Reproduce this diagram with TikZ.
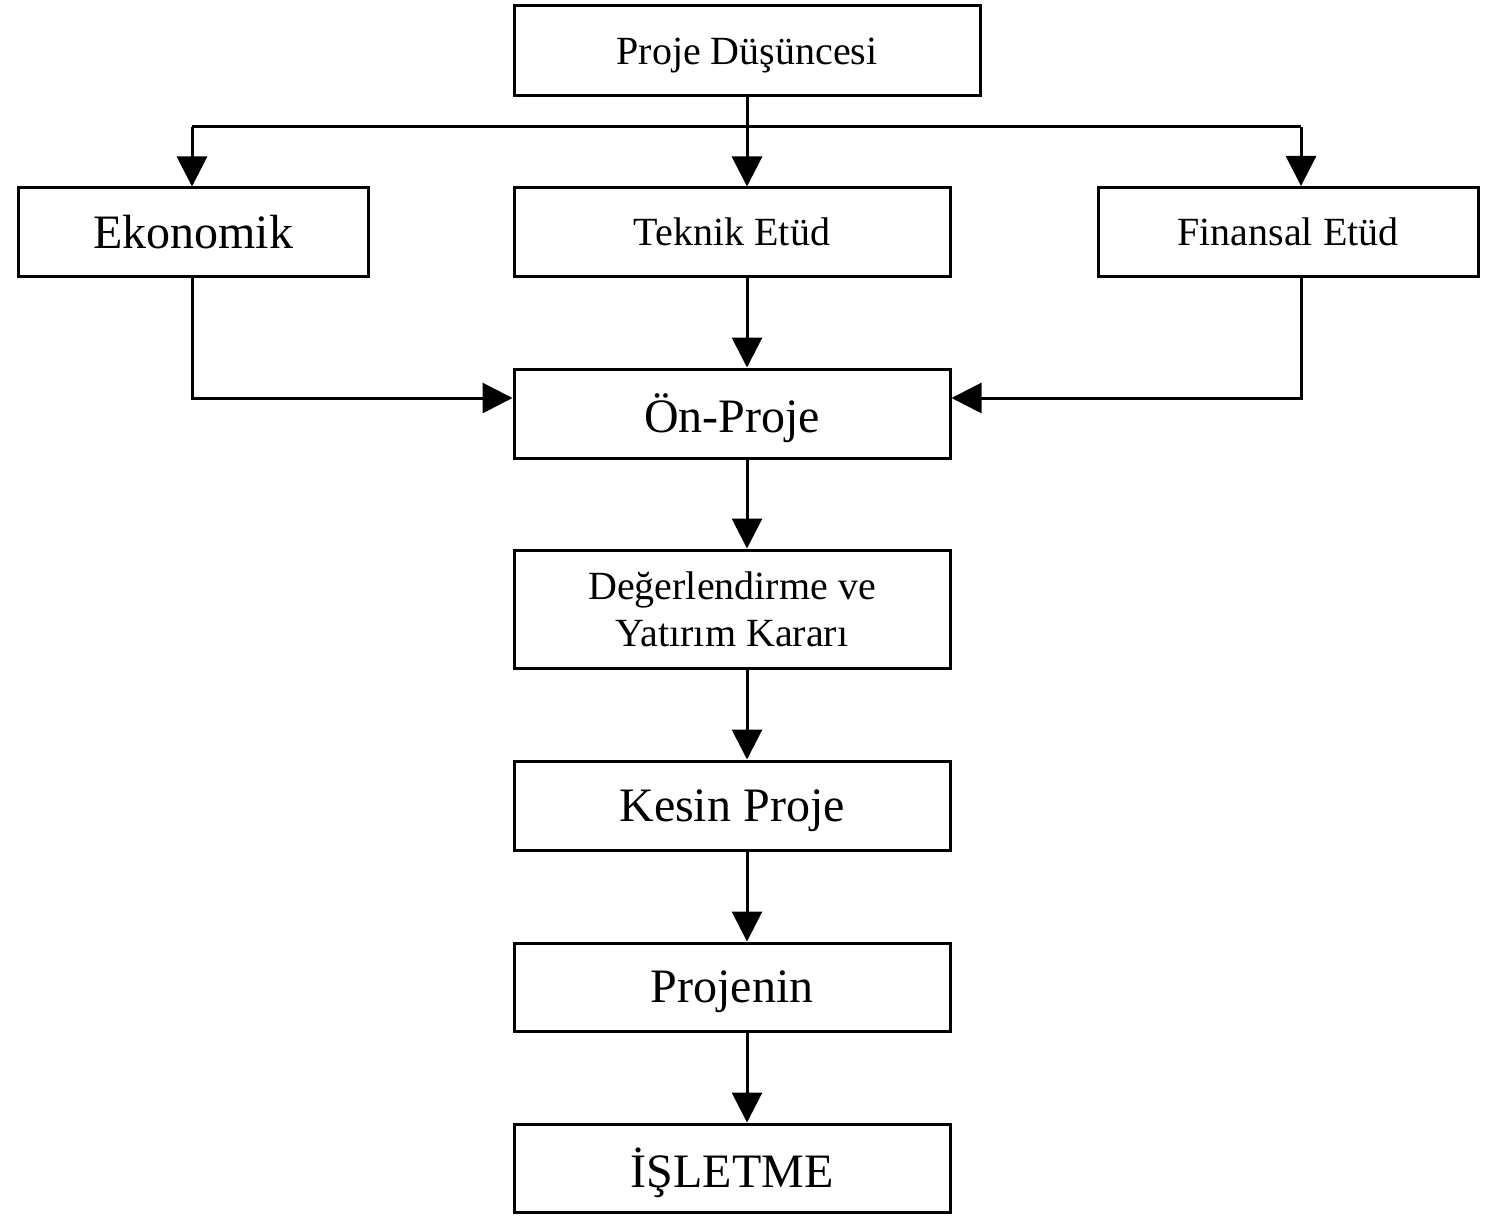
\documentclass[tikz,border=0pt]{standalone}
\usepackage{fontspec}
\setmainfont{Liberation Serif}
\usetikzlibrary{arrows.meta}
\begin{document}
\begin{tikzpicture}[x=1pt,y=-1pt,
  box/.style={draw=black, line width=3pt, inner sep=0pt, align=center},
  oneline/.style={text depth=0pt},
  bigtxt/.style={font=\fontsize{48}{56}\selectfont},
  smalltxt/.style={font=\fontsize{40}{47}\selectfont},
  link/.style={line width=3pt, -{Triangle[length=30pt,width=30pt]}},
  plain/.style={line width=3pt}]
\useasboundingbox (0,0) rectangle (1493,1217);

% stage boxes
\node[box, oneline, smalltxt, minimum width=466pt, minimum height=90pt] (idea) at (747,51) {Proje Düşüncesi};
\node[box, oneline, bigtxt, minimum width=350pt, minimum height=88pt] (ekon) at (193,232) {Ekonomik};
\node[box, oneline, smalltxt, minimum width=436pt, minimum height=88pt] (tekn) at (732,232) {Teknik Etüd};
\node[box, oneline, smalltxt, minimum width=380pt, minimum height=89pt] (fin) at (1288,232) {Finansal Etüd};
\node[box, oneline, bigtxt, minimum width=436pt, minimum height=89pt] (onp) at (732,413.5) {Ön-Proje};
\node[box, smalltxt, minimum width=436pt, minimum height=118pt] (deg) at (732,609) {Değerlendirme ve\\Yatırım Kararı};
\node[box, oneline, bigtxt, minimum width=436pt, minimum height=89pt] (kes) at (732,805.5) {Kesin Proje};
\node[box, oneline, bigtxt, minimum width=436pt, minimum height=88pt] (prj) at (732,987) {Projenin};
\node[box, oneline, bigtxt, minimum width=436pt, minimum height=88pt] (isl) at (732,1168) {İŞLETME};

% routing points
\coordinate (busL) at (192,127);
\coordinate (busR) at (1301,127);
\coordinate (joinL) at (192,398);
\coordinate (joinR) at (1301,398);

% distribution from the idea box
\draw[plain] (idea.south) -- (idea.south |- busL);
\draw[plain] (busL) -- (busR);
\draw[link] (busL) -- (busL |- ekon.north);
\draw[link] (idea.south |- busL) -- (idea.south |- tekn.north);
\draw[link] (busR) -- (busR |- fin.north);

% studies into the preliminary project
\draw[link] (ekon.south -| joinL) -- (joinL) -- (joinL -| onp.west);
\draw[link] (fin.south -| joinR) -- (joinR) -- (joinR -| onp.east);
\draw[link] (tekn.south -| idea.south) -- (onp.north -| idea.south);

% main chain
\draw[link] (onp.south -| idea.south) -- (deg.north -| idea.south);
\draw[link] (deg.south -| idea.south) -- (kes.north -| idea.south);
\draw[link] (kes.south -| idea.south) -- (prj.north -| idea.south);
\draw[link] (prj.south -| idea.south) -- (isl.north -| idea.south);
\end{tikzpicture}
\end{document}
